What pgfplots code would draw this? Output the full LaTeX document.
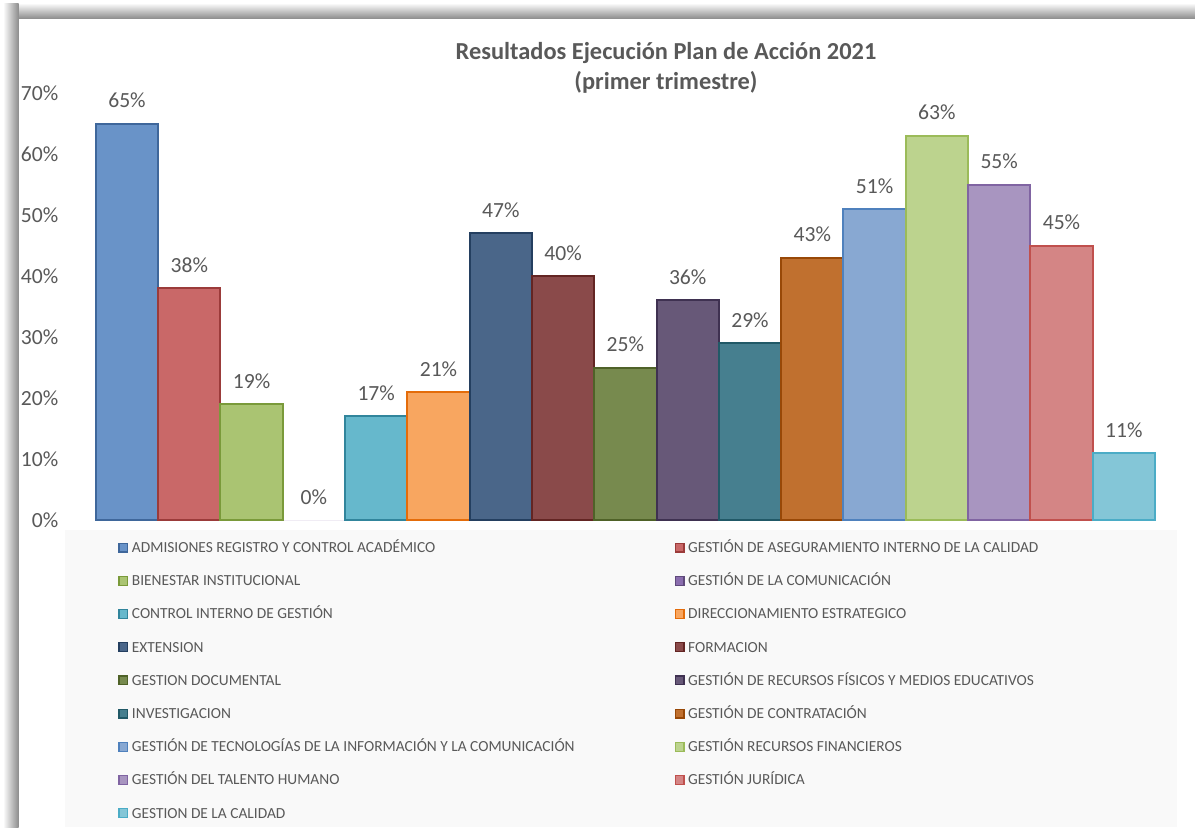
\documentclass[border=0pt]{standalone}
\usepackage{pgfplots}
\pgfplotsset{compat=1.18}
\usepackage{fontspec}
\setmainfont{Carlito}
\definecolor{tgray}{HTML}{595959}
\definecolor{legbg}{HTML}{F9F9F9}
\definecolor{fa}{HTML}{6993C8}\definecolor{da}{HTML}{3F679B}
\definecolor{fb}{HTML}{C96868}\definecolor{db}{HTML}{9B3B3A}
\definecolor{fc}{HTML}{AAC472}\definecolor{dc}{HTML}{7A9A3A}
\definecolor{fd}{HTML}{8A6DAE}\definecolor{dd}{HTML}{5F4A7B}
\definecolor{fe}{HTML}{66B8CC}\definecolor{de}{HTML}{31859C}
\definecolor{ff}{HTML}{F8A660}\definecolor{df}{HTML}{E46C0A}
\definecolor{fg}{HTML}{4A6689}\definecolor{dg}{HTML}{243F60}
\definecolor{fh}{HTML}{8A4A4A}\definecolor{dh}{HTML}{632523}
\definecolor{fi}{HTML}{778A4E}\definecolor{di}{HTML}{4F6228}
\definecolor{fj}{HTML}{675878}\definecolor{dj}{HTML}{3F3151}
\definecolor{fk}{HTML}{467F8F}\definecolor{dk}{HTML}{215967}
\definecolor{fl}{HTML}{C0702F}\definecolor{dl}{HTML}{984807}
\definecolor{fm}{HTML}{88A8D2}\definecolor{dm}{HTML}{4F81BD}
\definecolor{fn}{HTML}{BCD38E}\definecolor{dn}{HTML}{9BBB59}
\definecolor{fo}{HTML}{A895C0}\definecolor{dO}{HTML}{8064A2}
\definecolor{fp}{HTML}{D48585}\definecolor{dp}{HTML}{C0504D}
\definecolor{fq}{HTML}{84C6D7}\definecolor{dq}{HTML}{4BACC6}
\newcommand{\legent}[1]{\addlegendentry{\makebox[255pt][l]{\rule{0pt}{4.9pt}\smash{#1}}}}
\begin{document}
\begin{tikzpicture}
\path[use as bounding box, fill=white] (0pt,0pt) rectangle (597.5pt,-413.5pt);
\shade[top color=white, bottom color=black!45] (1.5pt,-1.5pt) rectangle (597.5pt,-9.3pt);
\shade[left color=white, right color=black!45] (1.5pt,-1.5pt) rectangle (9.3pt,-413.5pt);
\fill[white] (9.3pt,-9.3pt) rectangle (597.5pt,-413.5pt);
\fill[legbg] (32.5pt,-265pt) rectangle (588.5pt,-413.5pt);
\node[font=\bfseries\fontsize{12.2}{15}\selectfont, align=center, text=tgray] at (333pt,-33.8pt)
  {Resultados Ejecución Plan de Acción 2021\\(primer trimestre)};
\begin{axis}[
  at={(32.35pt,-260pt)}, anchor=south west,
  scale only axis, width=560.7pt, height=213.5pt,
  xmin=-1, xmax=17, ymin=0, ymax=70,
  clip=false,
  axis line style={draw=none},
  tick style={draw=none},
  xtick=\empty,
  ytick={0,10,...,70},
  yticklabel={\pgfmathprintnumber{\tick}\%},
  /pgf/number format/assume math mode=true,
  yticklabel style={font=\fontsize{10.8}{12}\selectfont, text=tgray, inner sep=0pt, xshift=-3pt},
  every axis plot/.append style={ybar, bar width=1, bar shift=0pt, line width=1pt},
  nodes near coords={\pgfmathprintnumber{\pgfplotspointmeta}\%},
  every node near coord/.append style={font=\fontsize{10.8}{12}\selectfont, text=tgray, anchor=south, inner sep=0pt, yshift=7.3pt},
  legend image code/.code={\draw[#1, line width=0.6pt] (0pt,-2.2pt) rectangle (4.4pt,2.2pt);},
  legend columns=2,
  legend cell align=left,
  legend style={at={(axis description cs:0.0475,-0.052)}, anchor=north west,
    draw=none, fill=none, font=\fontsize{7.7}{9}\selectfont, text=tgray,
    inner sep=0pt, row sep=11.6pt, nodes={inner sep=0pt, text depth=0pt},
    /tikz/every odd column/.append style={column sep=1.8pt},
    /tikz/every even column/.append style={column sep=16.3pt}},
]
\addplot[fill=fa, draw=da] coordinates {(0,65)}; \legent{ADMISIONES REGISTRO Y CONTROL ACADÉMICO}
\addplot[fill=fb, draw=db] coordinates {(1,38)}; \legent{GESTIÓN DE ASEGURAMIENTO INTERNO DE LA CALIDAD}
\addplot[fill=fc, draw=dc] coordinates {(2,19)}; \legent{BIENESTAR INSTITUCIONAL}
\addplot[fill=fd, draw=none, legend image code/.code={\draw[fill=fd, draw=dd, line width=0.6pt] (0pt,-2.2pt) rectangle (4.4pt,2.2pt);}] coordinates {(3,0)}; \legent{GESTIÓN DE LA COMUNICACIÓN}
\addplot[fill=fe, draw=de] coordinates {(4,17)}; \legent{CONTROL INTERNO DE GESTIÓN}
\addplot[fill=ff, draw=df] coordinates {(5,21)}; \legent{DIRECCIONAMIENTO ESTRATEGICO}
\addplot[fill=fg, draw=dg] coordinates {(6,47)}; \legent{EXTENSION}
\addplot[fill=fh, draw=dh] coordinates {(7,40)}; \legent{FORMACION}
\addplot[fill=fi, draw=di] coordinates {(8,25)}; \legent{GESTION DOCUMENTAL}
\addplot[fill=fj, draw=dj] coordinates {(9,36)}; \legent{GESTIÓN DE RECURSOS FÍSICOS Y MEDIOS EDUCATIVOS}
\addplot[fill=fk, draw=dk] coordinates {(10,29)}; \legent{INVESTIGACION}
\addplot[fill=fl, draw=dl] coordinates {(11,43)}; \legent{GESTIÓN DE CONTRATACIÓN}
\addplot[fill=fm, draw=dm] coordinates {(12,51)}; \legent{GESTIÓN DE TECNOLOGÍAS DE LA INFORMACIÓN Y LA COMUNICACIÓN}
\addplot[fill=fn, draw=dn] coordinates {(13,63)}; \legent{GESTIÓN RECURSOS FINANCIEROS}
\addplot[fill=fo, draw=dO] coordinates {(14,55)}; \legent{GESTIÓN DEL TALENTO HUMANO}
\addplot[fill=fp, draw=dp] coordinates {(15,45)}; \legent{GESTIÓN JURÍDICA}
\addplot[fill=fq, draw=dq] coordinates {(16,11)}; \legent{GESTION DE LA CALIDAD}
\end{axis}
\end{tikzpicture}
\end{document}
